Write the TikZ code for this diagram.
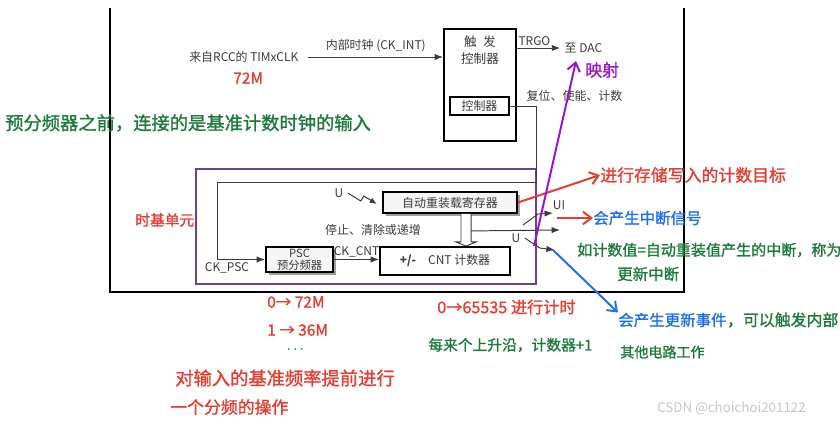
\documentclass[tikz,border=0pt]{standalone}
\usepackage{fontspec}
\newfontfamily\cjk{Noto Sans CJK SC}
\newfontfamily\hand[FakeBold=1.2]{Noto Sans CJK SC}
\usepackage{xcolor}
\usepackage{tikz}
\usetikzlibrary{positioning, arrows.meta, shadows, calc}

\definecolor{ink}{HTML}{3A3A3A}
\definecolor{hred}{HTML}{E63B2E}
\definecolor{hgreen}{HTML}{1B7A3B}
\definecolor{hblue}{HTML}{1F6FEB}
\definecolor{hpurple}{HTML}{9A12C9}
\definecolor{boxpurple}{HTML}{6B3FA0}

\begin{document}
\begin{tikzpicture}[
    x=0.025cm, y=-0.025cm,
    every node/.style={font=\cjk\fontsize{8.5}{10}\selectfont, text=ink, inner sep=1pt},
    blk/.style={draw=black, line width=1.3pt, fill=white, inner sep=0pt},
    shblk/.style={blk, fill=gray!8, drop shadow={shadow xshift=2.2pt, shadow yshift=-2.2pt, fill=gray!75, opacity=1}},
    sig/.style={draw=ink, line width=0.7pt},
    sigarrow/.style={sig, -{Latex[length=6pt, width=4.5pt]}},
    hand/.style={line width=1.4pt, -{Straight Barb[length=6pt, width=9pt]}},
    note/.style={font=\hand\fontsize{#1}{#1}\selectfont, anchor=west, inner sep=0pt},
  ]
  \useasboundingbox (0,0) rectangle (840,424);

  % --- Outer frame ---
  \draw[line width=2pt] (110,8) -- (110,292) -- (684,292) -- (684,8);

  % --- Trigger controller ---
  \node[blk, minimum width=1.8cm, minimum height=2.8cm] (trig) at (480,85) {};
  \node[below=0.15cm of trig.north, align=center, font=\cjk\fontsize{9}{12}\selectfont] (trigtxt) {触\enspace 发\\控制器};
  \node[blk, minimum width=1.475cm, minimum height=0.45cm] (ctrl) at (479.5,106) {控制器};

  \node[anchor=east] (rcc) at (300,57) {来自RCC的 TIMxCLK};
  \draw[sigarrow] ([xshift=6pt]rcc.east) -- (rcc.east -| trig.west)
    node[midway, above=2pt] (ckint) {内部时钟 (CK\_INT)};

  \node[anchor=west] (dac) at (563,48) {至 DAC};
  \draw[sigarrow, shorten >=2pt] (trig.east |- dac.west) -- (dac.west)
    node[pos=0.38, above] (trgo) {TRGO};
  \node[anchor=west] (rst) at (525,96) {复位、使能、计数};

  % --- Time base unit ---
  \node[draw=boxpurple, line width=1.4pt, minimum width=8.5cm, minimum height=2.875cm] (tbu) at (366,226.5) {};

  \node[shblk, minimum width=3.35cm, minimum height=0.525cm] (arrreg) at (450,202.5) {自动重装载寄存器};
  \node[shblk, minimum width=1.675cm, minimum height=0.625cm, align=center, font=\cjk\fontsize{8}{8.5}\selectfont] (psc) at (299.5,259.5) {PSC\\预分频器};
  \node[blk, minimum width=3.25cm, minimum height=0.7cm] (cnt) at (445,261) {\textbf{+/-}\quad CNT 计数器};

  \coordinate (fbtop) at (536,182);
  \coordinate (fbleft) at (217,182);
  \draw[sigarrow] (ctrl.east) -| (fbtop) -- (fbleft) |- (psc.west);
  \node (ckpsc) at (227,268) {CK\_PSC};

  \draw[sigarrow] (psc.east) -- (psc.east -| cnt.west)
    node[midway, above] (ckcnt) {CK\_CNT};

  \node (u1) at (339,193) {U};
  \draw[sig, -{Latex[length=5pt, width=4pt]}] ([xshift=2pt]u1.east) -- ++(13,8) -- ++(3,-5) -- ++(13,8);
  \node (stop) at (373,230) {停止、清除或递增};

  % hollow arrow ARR -> CNT
  \coordinate (hol) at ($(arrreg.south)+(16,0)$);
  \draw[sig, fill=white] ($(hol)+(-5,0)$) -- ++(0,28) -- ++(-5,0) -- (hol |- cnt.north)
    -- ($(hol)+(10,28)$) -- ++(-5,0) -- ($(hol)+(5,0)$);
  \draw[sigarrow] ($(hol)+(5,17)$) -- (560,230);

  % update switches
  \node (ui) at (559,205) {UI};
  \coordinate (uisw) at (523,225);
  \draw[sigarrow] (uisw) -- ++(15,-11) -- ++(15,-1);
  \node (u2) at (516,238) {U};
  \draw[sigarrow] ([xshift=2pt]u2.east) -- ++(15,10) -- ++(15,2);

  % --- Notes ---
  \node[note=11, text=hred] (n72) at (233,78) {72M};
  \node[note=13, text=hgreen] (prenote) at (5,123) {预分频器之前，连接的是基准计数时钟的输入};
  \node[note=10.5, text=hred] (tbnote) at (135,220) {时基单元};

  \node[note=12, text=hred] (arrnote) at (600,175) {进行存储写入的计数目标};
  \draw[hand, hred] (arrreg.east) -- (arrnote.west);

  \node[note=11, text=hblue] (intnote) at (593,218) {会产生中断信号};
  \coordinate (intsrc) at (557,218);
  \draw[hand, hred] (intsrc) -- (intnote.west);

  \node[note=10.7, text=hgreen] (uevnote) at (577,250) {如计数值=自动重装值产生的中断，称为};
  \node[note=11, text=hgreen] (updnote) at (617,274) {更新中断};

  \node[note=11, text=hblue] (evnote) at (618,320) {会产生更新事件};
  \node[note=11.3, text=hgreen, right=0pt of evnote] (evnote2) {，可以触发内部};
  \node[note=10, text=hgreen] (evnote3) at (620,352) {其他电路工作};
  \coordinate (uevsrc) at (553,250);
  \draw[hand, hblue] (uevsrc) -- (evnote.north west);

  \node[note=12, text=hpurple] (mapnote) at (585,70) {映射};
  \coordinate (mapsrc) at (534,246);
  \coordinate (maptip) at (576,61);
  \draw[hand, hpurple] (mapsrc) -- (maptip);

  \node[note=11, text=hred] (f0) at (267,302) {0→ 72M};
  \node[note=11, text=hred] (f1) at (267,330) {1 → 36M};
  \node[note=8, text=hgreen] (fdots) at (287,349) {. . .};
  \node[note=13, text=hred] (pscnote1) at (175,378) {对输入的基准频率提前进行};
  \node[note=12, text=hred] (pscnote2) at (170,407) {一个分频的操作};

  \node[note=11.5, text=hred] (cnt1) at (437,307) {0→65535 进行计时};
  \node[note=10.5, text=hgreen] (cnt2) at (428,345) {每来个上升沿，计数器+1};

  \node[font=\cjk\fontsize{9.5}{10}\selectfont, text=gray!45, anchor=west, inner sep=0pt] (wm) at (657,408) {CSDN @choichoi201122};
\end{tikzpicture}
\end{document}
